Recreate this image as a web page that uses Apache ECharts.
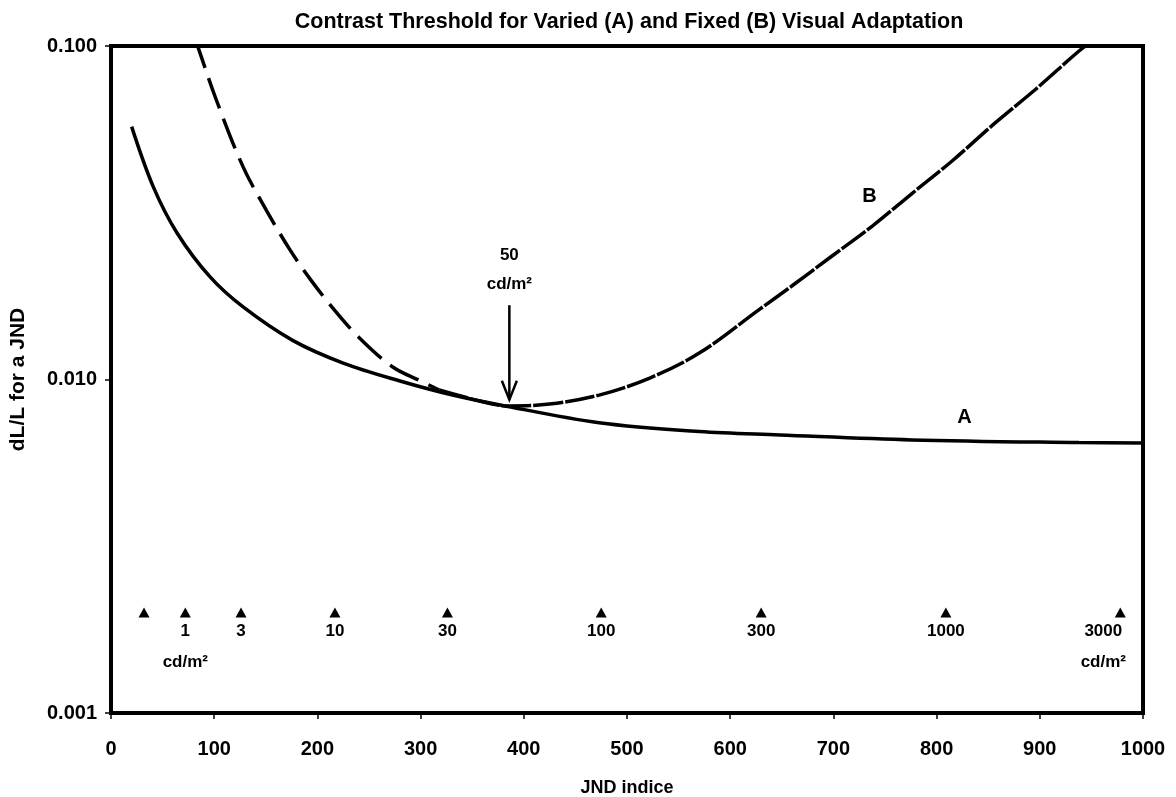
<!DOCTYPE html>
<html>
<head>
<meta charset="utf-8">
<script src="https://cdn.jsdelivr.net/npm/echarts@6/dist/echarts.min.js"></script>
<style>
html,body{margin:0;padding:0;background:#fff;}
#chart{width:1176px;height:797px;}
</style>
</head>
<body>
<div id="chart"></div>
<script>
// ---- data ----
var titleText = 'Contrast Threshold for Varied (A) and Fixed (B) Visual Adaptation';
var xName = 'JND indice';
var yName = 'dL/L for a JND';

// Curve A: varied adaptation [JND index, dL/L]
var curveA = [
  [20, 0.0573], [41, 0.0378], [64, 0.0275], [96, 0.0203], [128, 0.0165],
  [176, 0.0131], [225, 0.0112], [280, 0.0099], [330, 0.0090], [377, 0.00839],
  [473, 0.00742], [570, 0.00698], [648, 0.00682], [776, 0.00659],
  [938, 0.00647], [1000, 0.00645]
];
// Curve B: fixed adaptation (50 cd/m2)
var curveB = [
  [81, 0.106], [83, 0.102], [102, 0.069], [128, 0.0434], [151, 0.0320], [173, 0.0246],
  [193, 0.0200], [219, 0.0158], [241, 0.0133], [273, 0.0109], [300, 0.0099],
  [318, 0.0093], [360, 0.00858], [386, 0.00833], [425, 0.00844], [473, 0.00898],
  [522, 0.0101], [570, 0.0120], [628, 0.0162], [660, 0.0191], [699, 0.0235],
  [738, 0.0289], [777, 0.0363], [815, 0.0452], [857, 0.0589], [896, 0.0742],
  [938, 0.0966], [955, 0.106]
];
var splitB = 318; // where the dash pattern changes

// Luminance markers along the JND axis
var markerX = [32, 72, 126, 217, 326, 475, 630, 809, 978];
var markerLevel = 0.002;
var markerText = ['', '1', '3', '10', '30', '100', '300', '1000', '3000'];
var markerUnit = [false, true, false, false, false, false, false, false, true];
var unitText = 'cd/m²';

// 50 cd/m2 arrow: [x, top, tip]
var arrow = [[386, 0.0167, 0.0087]];
var arrowText = '50\ncd/m²';

// Curve labels
var curveLabels = [[827, 0.00767, 'A'], [735, 0.0353, 'B']];

var yTicks = [0.001, 0.01, 0.1];

// ---- build ----
var FONT = '"Liberation Sans", Arial, sans-serif';
var bLeft = curveB.filter(function (p) { return p[0] <= splitB; });
var bRight = curveB.filter(function (p) { return p[0] >= splitB; });

var markerData = markerX.map(function (x, i) {
  var d = { value: [x, markerLevel], name: markerText[i] };
  if (i === markerX.length - 1) {
    d.label = { offset: [-17, 0] };
  }
  return d;
});

var chart = echarts.init(document.getElementById('chart'), null, { renderer: 'canvas' });
chart.setOption({
  backgroundColor: '#fff',
  animation: false,
  title: {
    text: titleText,
    left: 624, top: 6, textAlign: 'center',
    textStyle: { fontFamily: FONT, fontSize: 21.5, fontWeight: 'bold', color: '#000' }
  },
  grid: {
    left: 111, right: 33, top: 46, bottom: 84,
    outerBoundsMode: 'none', containLabel: false,
    show: true, borderColor: '#000', borderWidth: 4, backgroundColor: '#fff'
  },
  xAxis: {
    type: 'value', min: 0, max: 1000, interval: 100,
    name: xName, nameLocation: 'middle', nameGap: 66,
    nameTextStyle: { fontFamily: FONT, fontSize: 18, fontWeight: 'bold', color: '#000' },
    axisLine: { show: true, lineStyle: { color: '#000', width: 4 } },
    axisTick: { show: true, length: 6, lineStyle: { color: '#000', width: 1.5 } },
    axisLabel: {
      margin: 26, fontFamily: FONT, fontSize: 20, fontWeight: 'bold', color: '#000',
      formatter: function (v) { return String(v); }
    },
    splitLine: { show: false }
  },
  yAxis: {
    type: 'log', logBase: 10, min: 0.001, max: 0.1,
    name: yName, nameLocation: 'middle', nameGap: 82, nameRotate: 90,
    nameTextStyle: { fontFamily: FONT, fontSize: 21, fontWeight: 'bold', color: '#000' },
    axisLine: { show: true, lineStyle: { color: '#000', width: 4 } },
    axisTick: { show: true, length: 6, lineStyle: { color: '#000', width: 1.5 } },
    axisLabel: {
      margin: 14, fontFamily: FONT, fontSize: 20, fontWeight: 'bold', color: '#000',
      formatter: function (v) {
        for (var i = 0; i < yTicks.length; i++) {
          if (Math.abs(v - yTicks[i]) / yTicks[i] < 1e-6) return yTicks[i].toFixed(3);
        }
        return '';
      }
    },
    splitLine: { show: false },
    minorTick: { show: false }
  },
  series: [
    {
      name: 'A', type: 'line', data: curveA, smooth: 0.35, symbol: 'none', clip: true,
      lineStyle: { color: '#000', width: 3.5 }, z: 3
    },
    {
      name: 'B-left', type: 'line', data: bLeft, smooth: 0.35, symbol: 'none', clip: true,
      lineStyle: { color: '#000', width: 3.5, type: [32, 11] }, z: 3
    },
    {
      name: 'B-right', type: 'line', data: bRight, smooth: 0.35, symbol: 'none', clip: true,
      lineStyle: { color: '#000', width: 3.5, type: [30, 2] }, z: 3
    },
    {
      name: 'markers', type: 'scatter', data: markerData,
      symbol: 'triangle', symbolSize: [11, 10],
      itemStyle: { color: '#000', opacity: 1 },
      label: {
        show: true, position: 'bottom', distance: 3, color: '#000',
        fontFamily: FONT, fontSize: 17, fontWeight: 'bold',
        formatter: function (p) {
          var s = '{n|' + p.name + '}';
          if (markerUnit[p.dataIndex]) s += '\n{u|' + unitText + '}';
          return s;
        },
        rich: {
          n: { fontFamily: FONT, fontSize: 17, fontWeight: 'bold', color: '#000', opacity: 1, lineHeight: 22 },
          u: { fontFamily: FONT, fontSize: 17, fontWeight: 'bold', color: '#000', opacity: 1, lineHeight: 40 }
        }
      },
      emphasis: { disabled: true },
      z: 4
    },
    {
      name: 'curveLabels', type: 'custom',
      data: curveLabels,
      renderItem: function (params, api) {
        var p = api.coord([api.value(0), api.value(1)]);
        return {
          type: 'text', x: p[0], y: p[1],
          style: { text: curveLabels[params.dataIndex][2], align: 'center', verticalAlign: 'middle',
            font: 'bold 20px ' + FONT, fill: '#000' }
        };
      },
      z: 5
    },
    {
      name: 'arrow', type: 'custom', data: arrow,
      encode: { x: 0, y: [1, 2] },
      renderItem: function (params, api) {
        var x = api.value(0);
        var top = api.coord([x, api.value(1)]);
        var tip = api.coord([x, api.value(2)]);
        return {
          type: 'group',
          children: [
            { type: 'line', shape: { x1: top[0], y1: top[1], x2: tip[0], y2: tip[1] },
              style: { stroke: '#000', lineWidth: 2.5 } },
            { type: 'polyline', shape: { points: [[tip[0] - 7.5, tip[1] - 19], [tip[0], tip[1]], [tip[0] + 7.5, tip[1] - 19]] },
              style: { stroke: '#000', lineWidth: 2.5, fill: null } },
            { type: 'text', x: top[0], y: top[1] - 6,
              style: { text: arrowText, align: 'center', verticalAlign: 'bottom',
                font: 'bold 17px ' + FONT, fill: '#000', lineHeight: 29 } }
          ]
        };
      },
      z: 5
    }
  ]
});
</script>
</body>
</html>
